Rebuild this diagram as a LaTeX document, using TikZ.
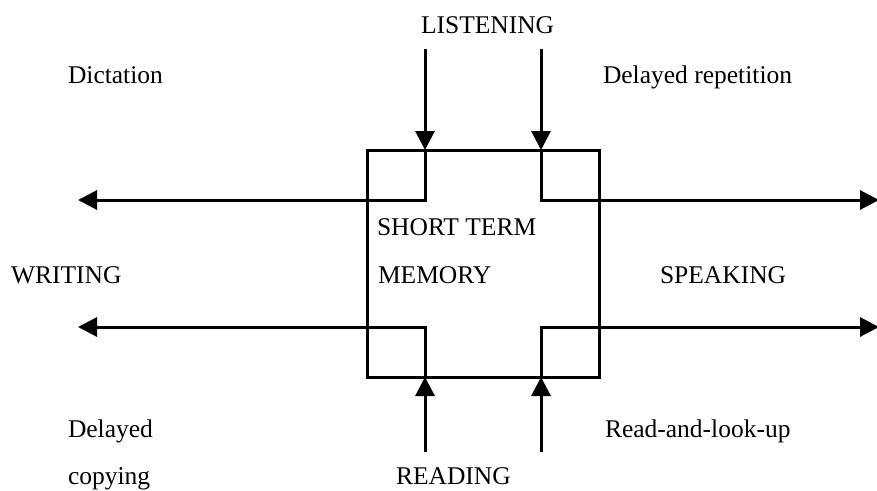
\documentclass[tikz,border=0pt]{standalone}
\usepackage{fontspec}
\setmainfont{Liberation Serif}
\usetikzlibrary{arrows.meta}
\tikzset{
  lbl/.style={anchor=base west, inner sep=0pt, outer sep=0pt, font=\fontsize{25.5}{30}\selectfont},
  wire/.style={line width=3pt, line join=miter},
  arr/.style={wire, -{Triangle[length=19pt,width=19pt]}},
  memorybox/.style={draw, line width=3pt, minimum width=232pt, minimum height=227pt, inner sep=0pt, outer sep=0pt}
}
\begin{document}
\begin{tikzpicture}[x=1pt,y=-1pt]
\useasboundingbox (0,0) rectangle (877,490);

% central store
\node[memorybox] (stm) at (483,263.5) {};
\node[lbl] (t1) at (377,235) {SHORT TERM};
\node[lbl] (t2) at (378,283) {MEMORY};

% labels
\node[lbl] (listen) at (421,33) {LISTENING};
\node[lbl] (dict) at (68,83) {Dictation};
\node[lbl] (delrep) at (603,83) {Delayed repetition};
\node[lbl] (write) at (11,283) {WRITING};
\node[lbl] (speak) at (660,283) {SPEAKING};
\node[lbl] (delcop1) at (68,437) {Delayed};
\node[lbl] (delcop2) at (68,484) {copying};
\node[lbl] (readlook) at (605,437) {Read-and-look-up};
\node[lbl] (read) at (396,484) {READING};

% routing points
\coordinate (inL) at (425,49);
\coordinate (inR) at (541,49);
\coordinate (upL) at (425,200);
\coordinate (upR) at (541,200);
\coordinate (outWU) at (78,200);
\coordinate (outSU) at (879,200);
\coordinate (botL) at (425,452);
\coordinate (botR) at (541,452);
\coordinate (loL) at (425,327);
\coordinate (loR) at (541,327);
\coordinate (outWL) at (78,327);
\coordinate (outSL) at (879,327);

% listening inputs
\draw[arr] (inL) -- (inL |- stm.north);
\draw[arr] (inR) -- (inR |- stm.north);
% reading inputs
\draw[arr] (botL) -- (botL |- stm.south);
\draw[arr] (botR) -- (botR |- stm.south);

% outputs to writing and speaking
\draw[arr] (inL |- stm.north) -- (upL) -- (outWU);
\draw[arr] (inR |- stm.north) -- (upR) -- (outSU);
\draw[arr] (botL |- stm.south) -- (loL) -- (outWL);
\draw[arr] (botR |- stm.south) -- (loR) -- (outSL);
\end{tikzpicture}
\end{document}
